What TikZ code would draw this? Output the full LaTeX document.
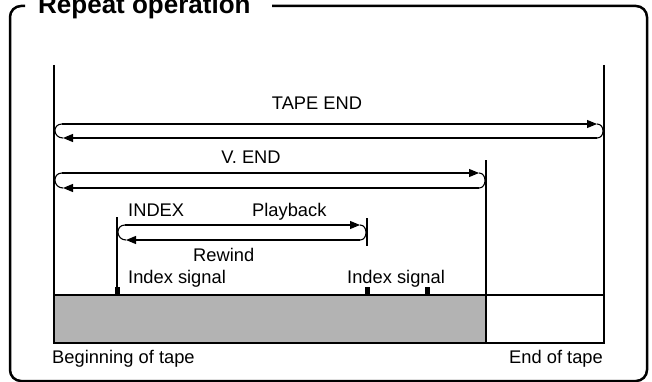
\documentclass[tikz,border=0pt]{standalone}
\usepackage{fontspec}
\setmainfont{Liberation Sans}
\usepackage{xcolor}
\definecolor{tapegray}{HTML}{B3B3B3}
\usetikzlibrary{positioning,arrows.meta}
\begin{document}
\begin{tikzpicture}[x=1pt,y=-1pt,
  lab/.style={font=\fontsize{18.3}{20}\selectfont,inner sep=0pt},
  ttl/.style={font=\fontsize{26}{28}\selectfont\bfseries,inner sep=0pt},
  arr/.style={-{Triangle[length=10pt,width=8pt]},line width=1.1pt},
  loopln/.style={line width=1.1pt},
  edge/.style={line width=1.5pt},
  idx/.style={fill=black,minimum width=5pt,minimum height=8pt,inner sep=0pt}]
\useasboundingbox (0,0) rectangle (652,382);
% frame and title
\draw[line width=2.5pt,rounded corners=11pt] (25,6) -- (10,6) -- (10,381) -- (647,381) -- (647,6) -- (272,6);
\node[ttl,anchor=base west] (title) at (38,14) {Repeat operation};
% tape
\filldraw[fill=tapegray,edge] (54,295) rectangle (486,343);
\draw[edge] (486,295) rectangle (604,343);
\coordinate (begin-top) at (54,65);
\coordinate (begin-bot) at (54,343);
\coordinate (end-top) at (604,65);
\coordinate (end-bot) at (604,343);
\coordinate (vend-top) at (486,160);
\coordinate (vend-bot) at (486,295);
\coordinate (index-top) at (117,217);
\coordinate (index-bot) at (117,295);
\coordinate (play-top) at (367,218);
\coordinate (play-bot) at (367,246);
\draw[edge] (begin-top) -- (begin-bot);
\draw[edge] (end-top) -- (end-bot);
\draw[edge] (vend-top) -- (vend-bot);
\draw[edge] (index-top) -- (index-bot);
\draw[edge] (play-top) -- (play-bot);
% index marks
\node[idx] (mark1) at (117,291) {};
\node[idx] (mark2) at (367,291) {};
\node[idx] (mark3) at (427,291) {};
% loops
\foreach \n/\yt/\yb/\xl/\xr in {tape/124/138/54/604, vend/173/188/54/486, index/225/240/117/367}{
  \coordinate (\n-tl) at (\xl+8,\yt);
  \coordinate (\n-tr) at (\xr-7,\yt);
  \coordinate (\n-br) at (\xr-7,\yb);
  \coordinate (\n-bl) at (\xl+9,\yb);
  \draw[arr] (\n-tl) -- (\n-tr);
  \draw[arr] (\n-br) -- (\n-bl);
  \draw[loopln] (\n-tr) .. controls +(8,0) and +(8,0) .. (\n-br);
  \draw[loopln] (\n-bl) .. controls +(-10,0) and +(-10,0) .. (\n-tl);
}
% labels
\node[lab,anchor=base] (tapeend) at (317,110) {TAPE END};
\node[lab,anchor=base] (vendlab) at (251,163) {V. END};
\node[lab,anchor=base west] (indexlab) at (128,216) {INDEX};
\node[lab,anchor=base west] (playlab) at (252,216) {Playback};
\node[lab,anchor=base west] (rewlab) at (193,261) {Rewind};
\node[lab,anchor=base west] (sig1) at (128,283) {Index signal};
\node[lab,anchor=base west] (sig2) at (347,283) {Index signal};
\node[lab,anchor=base west] (beginlab) at (52,363) {Beginning of tape};
\node[lab,anchor=base east] (endlab) at (603,363) {End of tape};
\end{tikzpicture}
\end{document}
